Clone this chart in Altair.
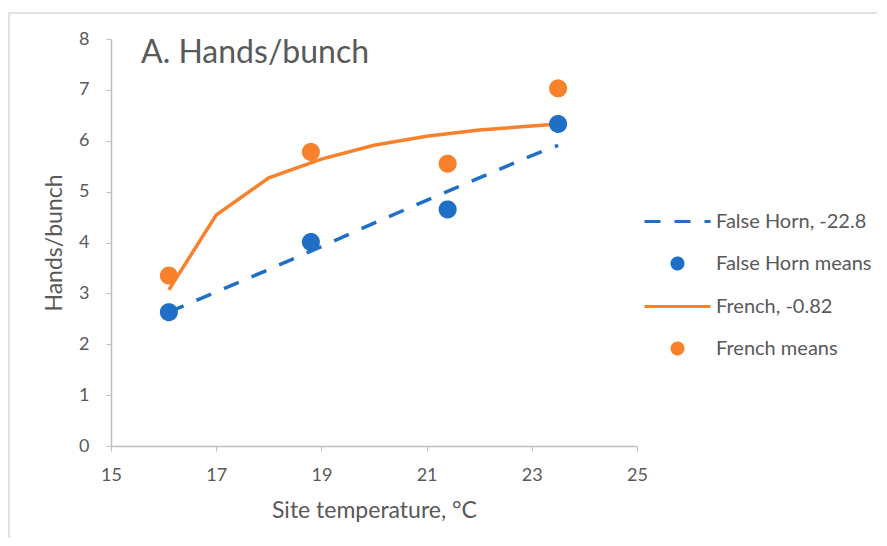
import altair as alt
import pandas as pd

# ---- data ----
series = ["False Horn, -22.8", "False Horn means", "French, -0.82", "French means"]
colors = ["#1f6fc6", "#1f6fc6", "#f8812b", "#f8812b"]

fh_mean_x = [16.1, 18.8, 21.4, 23.5]
fh_mean_y = [2.63, 4.01, 4.65, 6.33]
fr_mean_x = [16.1, 18.8, 21.4, 23.5]
fr_mean_y = [3.35, 5.78, 5.55, 7.03]

fh_fit_x = [16.1, 17, 18, 19, 20, 21, 22, 23, 23.5]
fh_fit_y = [2.63, 3.03, 3.47, 3.92, 4.38, 4.83, 5.27, 5.71, 5.91]
fr_fit_x = [16.1, 17, 18, 19, 20, 21, 22, 23, 23.5]
fr_fit_y = [3.07, 4.54, 5.27, 5.64, 5.91, 6.09, 6.21, 6.29, 6.33]

x_ticks = [15, 17, 19, 21, 23, 25]
y_ticks = [0, 1, 2, 3, 4, 5, 6, 7, 8]

# ---- tables ----
fh_fit = pd.DataFrame({"x": fh_fit_x, "y": fh_fit_y})
fr_fit = pd.DataFrame({"x": fr_fit_x, "y": fr_fit_y})
means = pd.concat([
    pd.DataFrame({"x": fh_mean_x, "y": fh_mean_y, "series": series[1]}),
    pd.DataFrame({"x": fr_mean_x, "y": fr_mean_y, "series": series[3]}),
])

TXT = "#595959"
AX = "#bfbfbf"
FONT = "Lato"
DASH = [16, 14]

LINE_SYM = "M-3.3,0H3.3"
CIRC_SYM = "M-0.55,0A0.55,0.55 0 1,0 0.55,0A0.55,0.55 0 1,0 -0.55,0Z"
dash_range = [DASH, [1, 0], [1, 0], [1, 0]]

x_enc = alt.X(
    "x:Q",
    scale=alt.Scale(domain=[15, 25], nice=False, zero=False),
    axis=alt.Axis(values=x_ticks, title="Site temperature, °C", grid=False,
                  labelPadding=15, titlePadding=15, labelFlush=False),
)
y_enc = alt.Y(
    "y:Q",
    scale=alt.Scale(domain=[0, 8], nice=False),
    axis=alt.Axis(values=y_ticks, title="Hands/bunch", grid=False,
                  labelPadding=17, titlePadding=12, labelFlush=False),
)

# light chart-area frame (chart chrome, not data)
frame = alt.Chart(pd.DataFrame({"f": [0]})).mark_rect(
    fill=None, stroke="#d9d9d9", strokeWidth=1.5
).encode(
    x=alt.value(-102), x2=alt.value(800), y=alt.value(-26), y2=alt.value(520)
)

fh_line = alt.Chart(fh_fit).mark_line(strokeWidth=3.5, color=colors[0], strokeDash=DASH).encode(
    x=x_enc, y=y_enc)
fr_line = alt.Chart(fr_fit).mark_line(strokeWidth=3.5, color=colors[2]).encode(
    x=x_enc, y=y_enc)

leg = alt.Legend(
    title=None, orient="none", legendX=532, legendY=171,
    symbolSize=400, symbolStrokeWidth=3, symbolOffset=23, labelOffset=27,
    labelFontSize=20, labelFont=FONT, labelColor=TXT, rowPadding=20, padding=0,
    labelLimit=300,
)

points = alt.Chart(means).mark_point(filled=True, size=744, strokeWidth=3, opacity=1).encode(
    x=x_enc,
    y=y_enc,
    fill=alt.Fill("series:N", scale=alt.Scale(domain=series, range=colors), legend=leg),
    stroke=alt.Stroke("series:N", scale=alt.Scale(domain=series, range=colors), legend=leg),
    shape=alt.Shape("series:N", scale=alt.Scale(domain=series, range=[LINE_SYM, CIRC_SYM, LINE_SYM, CIRC_SYM]), legend=leg),
    strokeDash=alt.StrokeDash("series:N", scale=alt.Scale(domain=series, range=dash_range), legend=leg),
)

chart = alt.layer(frame, fh_line, fr_line, points).properties(
    width=526,
    height=407,
    autosize=alt.AutoSizeParams(type="none"),
    padding={"left": 103, "top": 31, "right": 240, "bottom": 92},
    title=alt.TitleParams(
        "A. Hands/bunch", anchor="start", frame="group", fontSize=32, font=FONT,
        color=TXT, fontWeight="normal", baseline="alphabetic", dx=30, dy=83, offset=0,
    ),
).configure_view(stroke=None).configure_axis(
    domainColor=AX, tickColor=AX, tickSize=5, domainWidth=1.5,
    labelFont=FONT, labelFontSize=18, labelColor=TXT,
    titleFont=FONT, titleFontSize=23, titleColor=TXT, titleFontWeight="normal",
)

chart.save("out.html", embed_options={"renderer": "svg", "actions": False})
